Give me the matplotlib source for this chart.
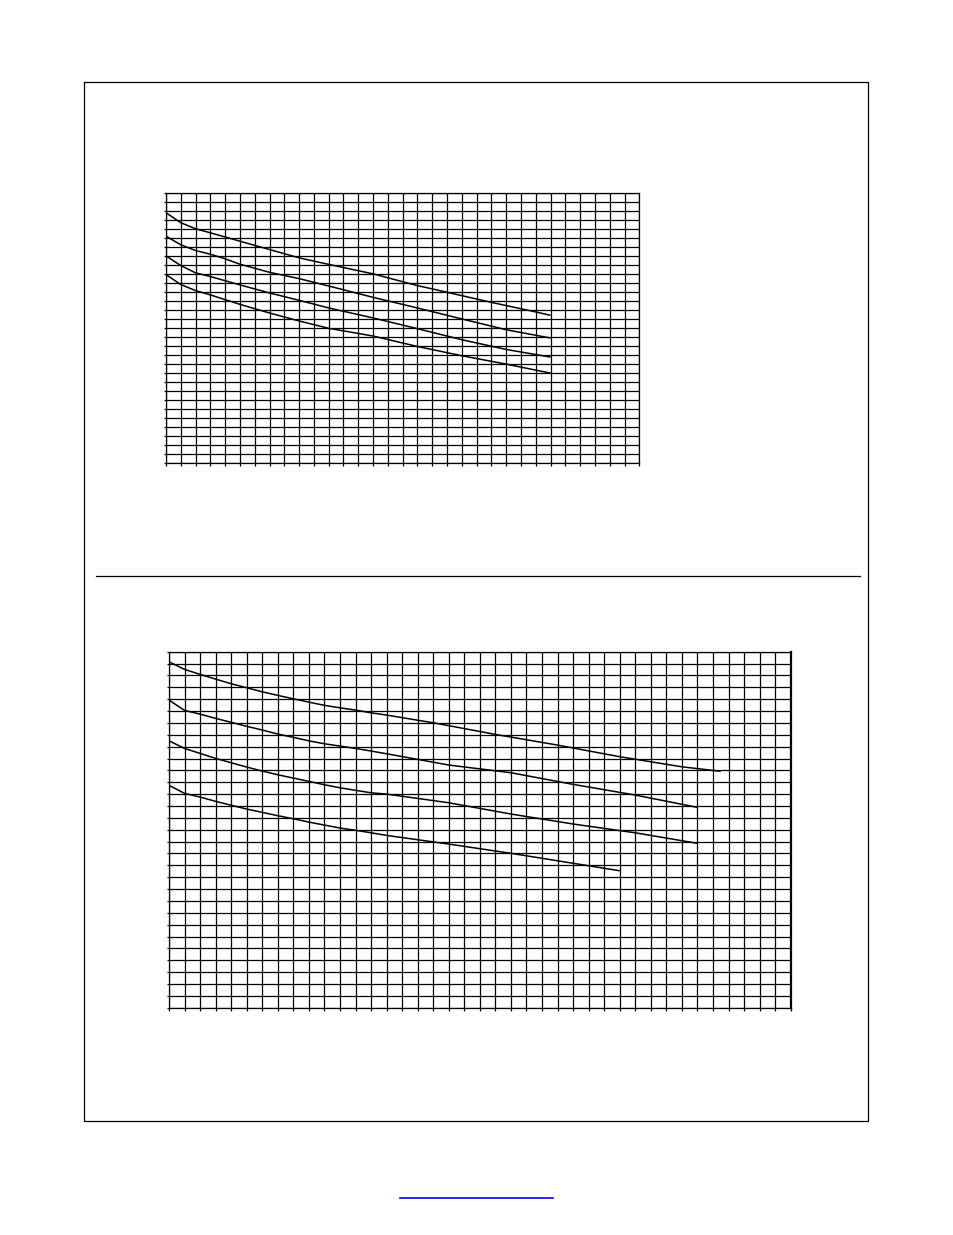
import matplotlib
matplotlib.use("Agg")
import matplotlib.pyplot as plt
from matplotlib.lines import Line2D

# ---------------- data (grid units) ----------------
top_cols, top_rows = 32, 30
bot_cols, bot_rows = 40, 30

t1_x = [0, 1, 2, 3, 5, 7, 9, 11, 14, 17, 18, 19, 22, 25, 26]
t1_y = [27.84, 26.73, 26.06, 25.61, 24.68, 23.75, 22.83, 22.1, 21.05, 19.74, 19.38, 19.0, 17.88, 16.82, 16.44]
t2_x = [0, 1, 2, 3, 4, 5, 6, 7, 9, 11, 14, 17, 20, 23, 26]
t2_y = [25.23, 24.28, 23.64, 23.23, 22.72, 22.12, 21.67, 21.22, 20.52, 19.7, 18.44, 17.26, 16.04, 14.84, 13.92]
t3_x = [0, 1, 2, 3, 5, 7, 9, 11, 14, 17, 20, 23, 26]
t3_y = [23.05, 21.97, 21.16, 20.75, 19.82, 18.93, 18.11, 17.26, 16.15, 14.96, 13.73, 12.65, 11.80]
t4_x = [0, 1, 2, 3, 5, 7, 9, 11, 14, 17, 20, 23, 26]
t4_y = [20.97, 19.86, 19.19, 18.71, 17.66, 16.70, 15.81, 15.0, 14.14, 12.98, 11.95, 11.02, 10.02]

b1_x = [0, 1, 2, 3, 4, 5, 6, 7, 8, 9, 10, 11, 12, 13, 14, 17, 21, 25, 29, 33, 35.5]
b1_y = [29.15, 28.51, 28.09, 27.69, 27.30, 26.96, 26.62, 26.32, 26.03, 25.75, 25.48, 25.27,
        25.08, 24.85, 24.66, 24.01, 23.03, 22.13, 21.15, 20.30, 19.92]
b2_x = [0, 1, 2, 3, 4, 5, 6, 7, 8, 9, 10, 11, 12, 13, 14, 18, 22, 26, 30, 34]
b2_y = [25.92, 25.05, 24.74, 24.38, 24.05, 23.71, 23.40, 23.06, 22.78, 22.49, 22.24, 22.05,
        21.85, 21.63, 21.40, 20.45, 19.80, 18.82, 17.92, 16.88]
b3_x = [0, 1, 2, 3, 4, 5, 6, 7, 8, 9, 10, 11, 12, 13, 14, 18, 22, 26, 30, 34]
b3_y = [22.49, 21.85, 21.43, 21.01, 20.64, 20.28, 19.94, 19.63, 19.35, 19.07, 18.79, 18.53,
        18.32, 18.11, 18.0, 17.27, 16.32, 15.48, 14.74, 13.85]
b4_x = [0, 1, 2, 3, 4, 5, 6, 7, 8, 9, 10, 11, 12, 13, 14, 18, 22, 26, 29]
b4_y = [18.74, 18.06, 17.75, 17.39, 17.06, 16.74, 16.46, 16.18, 15.92, 15.64, 15.39, 15.14,
        14.95, 14.74, 14.52, 13.79, 13.01, 12.17, 11.54]

# ---------------- figure ----------------
W, H = 954, 1235
fig = plt.figure(figsize=(W / 100, H / 100), dpi=100)
fig.patch.set_facecolor("white")


def px_axes(left, top, right, bottom):
    return fig.add_axes([left / W, 1 - bottom / H, (right - left) / W, (bottom - top) / H])


def grid_chart(ax, ncols, nrows, curves, right_lw=0.9):
    ax.set_xlim(0, ncols)
    ax.set_ylim(0, nrows)
    ax.set_xticks(range(ncols + 1))
    ax.set_yticks(range(nrows + 1))
    ax.set_xticklabels([])
    ax.set_yticklabels([])
    ax.grid(True, color="black", linewidth=0.9)
    ax.set_axisbelow(True)
    ax.tick_params(axis="x", direction="out", length=2.3, width=0.9, color="black")
    ax.tick_params(axis="y", direction="out", length=1.6, width=0.9, color="black")
    for s in ax.spines.values():
        s.set_color("black")
        s.set_linewidth(0.9)
    ax.spines["right"].set_linewidth(right_lw)
    for xs, ys in curves:
        ax.plot(xs, ys, color="black", linewidth=1.1, solid_capstyle="butt", zorder=3)


ax_top = px_axes(166, 193.3, 639.3, 463.3)
grid_chart(ax_top, top_cols, top_rows,
           [(t1_x, t1_y), (t2_x, t2_y), (t3_x, t3_y), (t4_x, t4_y)])

ax_bot = px_axes(169, 651.7, 790.7, 1007.7)
grid_chart(ax_bot, bot_cols, bot_rows,
           [(b1_x, b1_y), (b2_x, b2_y), (b3_x, b3_y), (b4_x, b4_y)], right_lw=1.6)

# page decorations (frame, separator, link underline)
page = fig.add_axes([0, 0, 1, 1], zorder=-1)
page.set_xlim(0, W)
page.set_ylim(H, 0)
page.axis("off")
page.add_line(Line2D([84.5, 868.5, 868.5, 84.5, 84.5], [82, 82, 1120.5, 1120.5, 82],
                     color="black", linewidth=0.9))
page.add_line(Line2D([96, 860.5], [575.5, 575.5], color="black", linewidth=0.9))
page.add_line(Line2D([400, 553], [1198, 1198], color="#0000ff", linewidth=1.2))

fig.savefig("out.png", dpi=100, facecolor="white")
